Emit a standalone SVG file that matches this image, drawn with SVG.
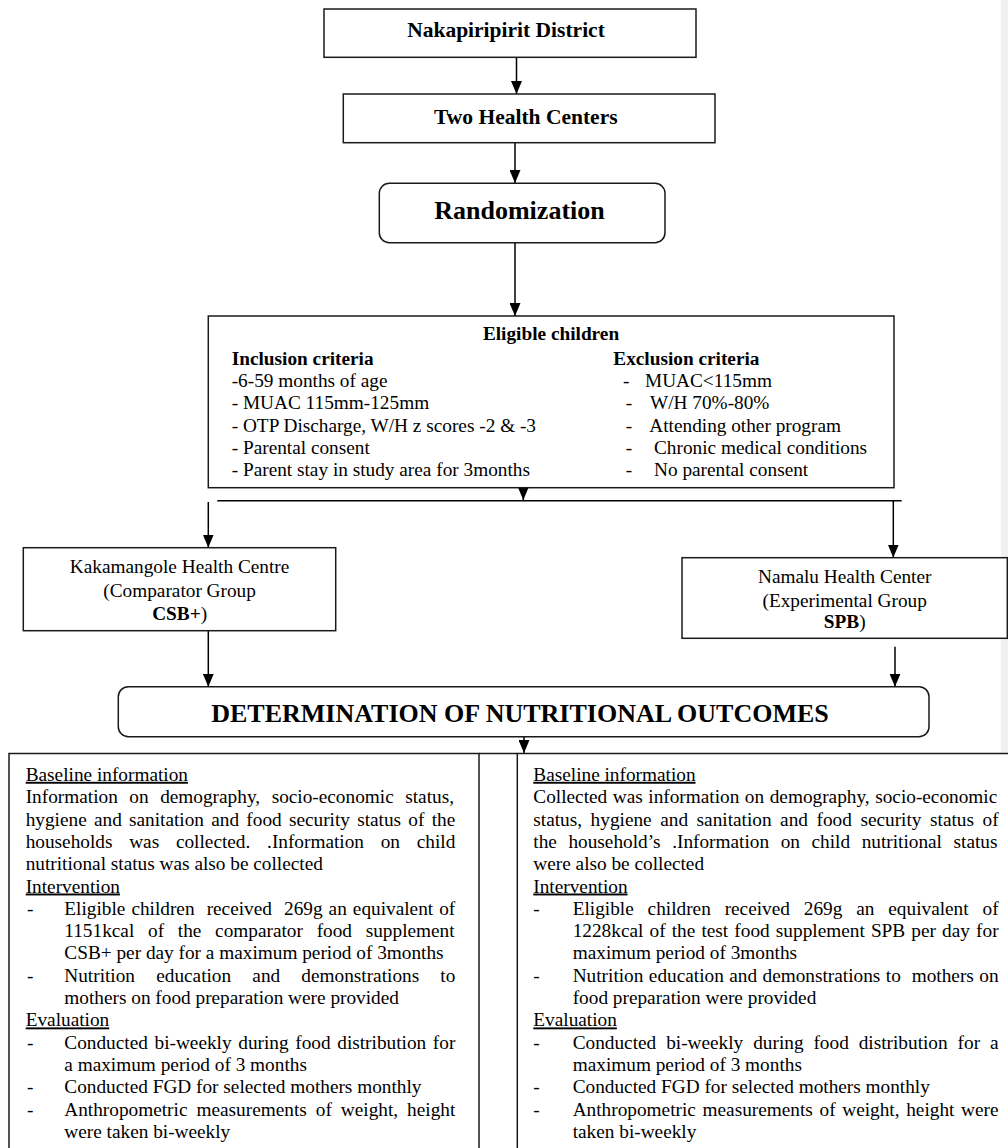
<svg xmlns="http://www.w3.org/2000/svg" width="1008" height="1148" viewBox="0 0 1008 1148">
<style>
.box{fill:#fff;stroke:#1a1a1a;stroke-width:1.5}
.t{font-family:"Liberation Serif","Times New Roman",serif;font-size:19.3px;fill:#000}
.b{font-weight:bold}
.u{text-decoration:underline}
.c{text-anchor:middle}
.conn line{stroke:#000;stroke-width:1.5}
</style>
<defs>
<marker id="ah" markerUnits="userSpaceOnUse" markerWidth="13" markerHeight="11" refX="13" refY="5.5" orient="auto" viewBox="0 0 13 11"><path d="M0,0 L13,5.5 L0,11 z" fill="#000"/></marker>
</defs>
<rect x="1001" y="0" width="7" height="753" fill="#f1f1f1"/>

<g id="connectors" class="conn">
<line x1="516.5" y1="57.5" x2="516.5" y2="94" marker-end="url(#ah)"/>
<line x1="515" y1="143" x2="515" y2="183" marker-end="url(#ah)"/>
<line x1="515" y1="243" x2="515" y2="316" marker-end="url(#ah)"/>
<line x1="523.3" y1="477" x2="523.3" y2="500" marker-end="url(#ah)"/>
<line x1="217.3" y1="500.7" x2="901.7" y2="500.7"/>
<line x1="208.3" y1="502" x2="208.3" y2="547.5" marker-end="url(#ah)"/>
<line x1="893.3" y1="501" x2="893.3" y2="557.5" marker-end="url(#ah)"/>
<line x1="208.3" y1="631" x2="208.3" y2="686.7" marker-end="url(#ah)"/>
<line x1="895" y1="646.7" x2="895" y2="686.7" marker-end="url(#ah)"/>
<line x1="524" y1="736.7" x2="524" y2="753" marker-end="url(#ah)"/>
</g>

<g id="district">
<rect class="box" x="324" y="9" width="372" height="48.3"/>
<text class="t b c" x="506" y="37" style="font-size:21.5px">Nakapiripirit District</text>
</g>

<g id="health-centers">
<rect class="box" x="343.3" y="94" width="371.7" height="48.7"/>
<text class="t b c" x="525.8" y="124" style="font-size:21.5px">Two Health Centers</text>
</g>

<g id="randomization">
<rect class="box" x="379.3" y="183.3" width="285.7" height="59.4" rx="10" ry="10"/>
<text class="t b c" x="519.5" y="219" style="font-size:26px">Randomization</text>
</g>

<g id="eligible">
<rect class="box" x="208.3" y="316" width="685.7" height="171.7"/>
<text class="t b c" x="551" y="340">Eligible children</text>
<text class="t b" x="231.7" y="365">Inclusion criteria</text>
<text class="t" x="231.7" y="387.2">-6-59 months of age</text>
<text class="t" x="231.7" y="409.4">- MUAC 115mm-125mm</text>
<text class="t" x="231.7" y="431.6">- OTP Discharge, W/H z scores -2 &amp; -3</text>
<text class="t" x="231.7" y="453.8">- Parental consent</text>
<text class="t" x="231.7" y="476">- Parent stay in study area for 3months</text>
<text class="t b" x="613.3" y="365">Exclusion criteria</text>
<text class="t" x="623" y="387.2">-</text><text class="t" x="645" y="387.2">MUAC&lt;115mm</text>
<text class="t" x="625.7" y="409.4">-</text><text class="t" x="650" y="409.4">W/H 70%-80%</text>
<text class="t" x="625.7" y="431.6">-</text><text class="t" x="649.3" y="431.6">Attending other program</text>
<text class="t" x="625.7" y="453.8">-</text><text class="t" x="654" y="453.8">Chronic medical conditions</text>
<text class="t" x="625.7" y="476">-</text><text class="t" x="654" y="476">No parental consent</text>
</g>

<g id="comparator">
<rect class="box" x="23.3" y="547.7" width="312.4" height="83"/>
<text class="t c" x="179.6" y="573.3">Kakamangole Health Centre</text>
<text class="t c" x="179.6" y="596.7">(Comparator Group</text>
<text class="t c" x="179.6" y="620"><tspan class="b">CSB+</tspan>)</text>
</g>

<g id="experimental">
<rect class="box" x="682" y="557.7" width="325.3" height="80.6"/>
<text class="t c" x="844.7" y="583.3">Namalu Health Center</text>
<text class="t c" x="844.7" y="606.7">(Experimental Group</text>
<text class="t c" x="844.7" y="628.3"><tspan class="b">SPB</tspan>)</text>
</g>

<g id="outcomes">
<rect class="box" x="118.3" y="686.7" width="810.7" height="50" rx="10" ry="10"/>
<text class="t b c" x="520" y="721.5" style="font-size:26px">DETERMINATION OF NUTRITIONAL OUTCOMES</text>
</g>

<g id="left-details">
<rect class="box" x="9" y="753.5" width="470" height="420"/>
<text class="t u" x="25.7" y="780.8">Baseline information</text>
<text class="t" x="25.7" y="803.1" word-spacing="6.72">Information on demography, socio-economic status,</text>
<text class="t" x="25.7" y="825.5" word-spacing="2.42">hygiene and sanitation and food security status of the</text>
<text class="t" x="25.7" y="847.8" word-spacing="11.92">households was collected. .Information on child</text>
<text class="t" x="25.7" y="870.1">nutritional status was also be collected</text>
<text class="t u" x="25.7" y="892.5">Intervention</text>
<text class="t" x="27" y="914.8">-</text>
<text class="t" x="64.3" y="914.8" word-spacing="1.22" xml:space="preserve">Eligible children  received  269g an equivalent of</text>
<text class="t" x="64.3" y="937.1" word-spacing="8.92">1151kcal of the comparator food supplement</text>
<text class="t" x="64.3" y="959.4">CSB+ per day for a maximum period of 3months</text>
<text class="t" x="27" y="981.8">-</text>
<text class="t" x="64.3" y="981.8" word-spacing="16.37">Nutrition education and demonstrations to</text>
<text class="t" x="64.3" y="1004.1">mothers on food preparation were provided</text>
<text class="t u" x="25.7" y="1026.4">Evaluation</text>
<text class="t" x="27" y="1048.8">-</text>
<text class="t" x="64.3" y="1048.8" word-spacing="1.84">Conducted bi-weekly during food distribution for</text>
<text class="t" x="64.3" y="1071.1">a maximum period of 3 months</text>
<text class="t" x="27" y="1093.4">-</text>
<text class="t" x="64.3" y="1093.4">Conducted FGD for selected mothers monthly</text>
<text class="t" x="27" y="1115.8">-</text>
<text class="t" x="64.3" y="1115.8" word-spacing="4.18">Anthropometric measurements of weight, height</text>
<text class="t" x="64.3" y="1138.1">were taken bi-weekly</text>
</g>

<g id="right-details">
<rect class="box" x="517.3" y="753.5" width="520" height="420"/>
<line x1="479" y1="753.5" x2="517.3" y2="753.5" stroke="#1a1a1a" stroke-width="1.5"/>
<text class="t u" x="533.3" y="780.8">Baseline information</text>
<text class="t" x="533.3" y="803.1" word-spacing="0.73">Collected was information on demography, socio-economic</text>
<text class="t" x="533.3" y="825.5" word-spacing="3.74">status, hygiene and sanitation and food security status of</text>
<text class="t" x="533.3" y="847.8" word-spacing="6.76">the household’s .Information on child nutritional status</text>
<text class="t" x="533.3" y="870.1">were also be collected</text>
<text class="t u" x="533.3" y="892.5">Intervention</text>
<text class="t" x="533.3" y="914.8">-</text>
<text class="t" x="572.7" y="914.8" word-spacing="9.05">Eligible children received 269g an equivalent of</text>
<text class="t" x="572.7" y="937.1" word-spacing="1.33">1228kcal of the test food supplement SPB per day for</text>
<text class="t" x="572.7" y="959.4">maximum period of 3months</text>
<text class="t" x="533.3" y="981.8">-</text>
<text class="t" x="572.7" y="981.8" word-spacing="0.63" xml:space="preserve">Nutrition education and demonstrations to  mothers on</text>
<text class="t" x="572.7" y="1004.1">food preparation were provided</text>
<text class="t u" x="533.3" y="1026.4">Evaluation</text>
<text class="t" x="533.3" y="1048.8">-</text>
<text class="t" x="572.7" y="1048.8" word-spacing="5.11">Conducted bi-weekly during food distribution for a</text>
<text class="t" x="572.7" y="1071.1">maximum period of 3 months</text>
<text class="t" x="533.3" y="1093.4">-</text>
<text class="t" x="572.7" y="1093.4">Conducted FGD for selected mothers monthly</text>
<text class="t" x="533.3" y="1115.8">-</text>
<text class="t" x="572.7" y="1115.8" word-spacing="1.86">Anthropometric measurements of weight, height were</text>
<text class="t" x="572.7" y="1138.1">taken bi-weekly</text>
</g>
</svg>
